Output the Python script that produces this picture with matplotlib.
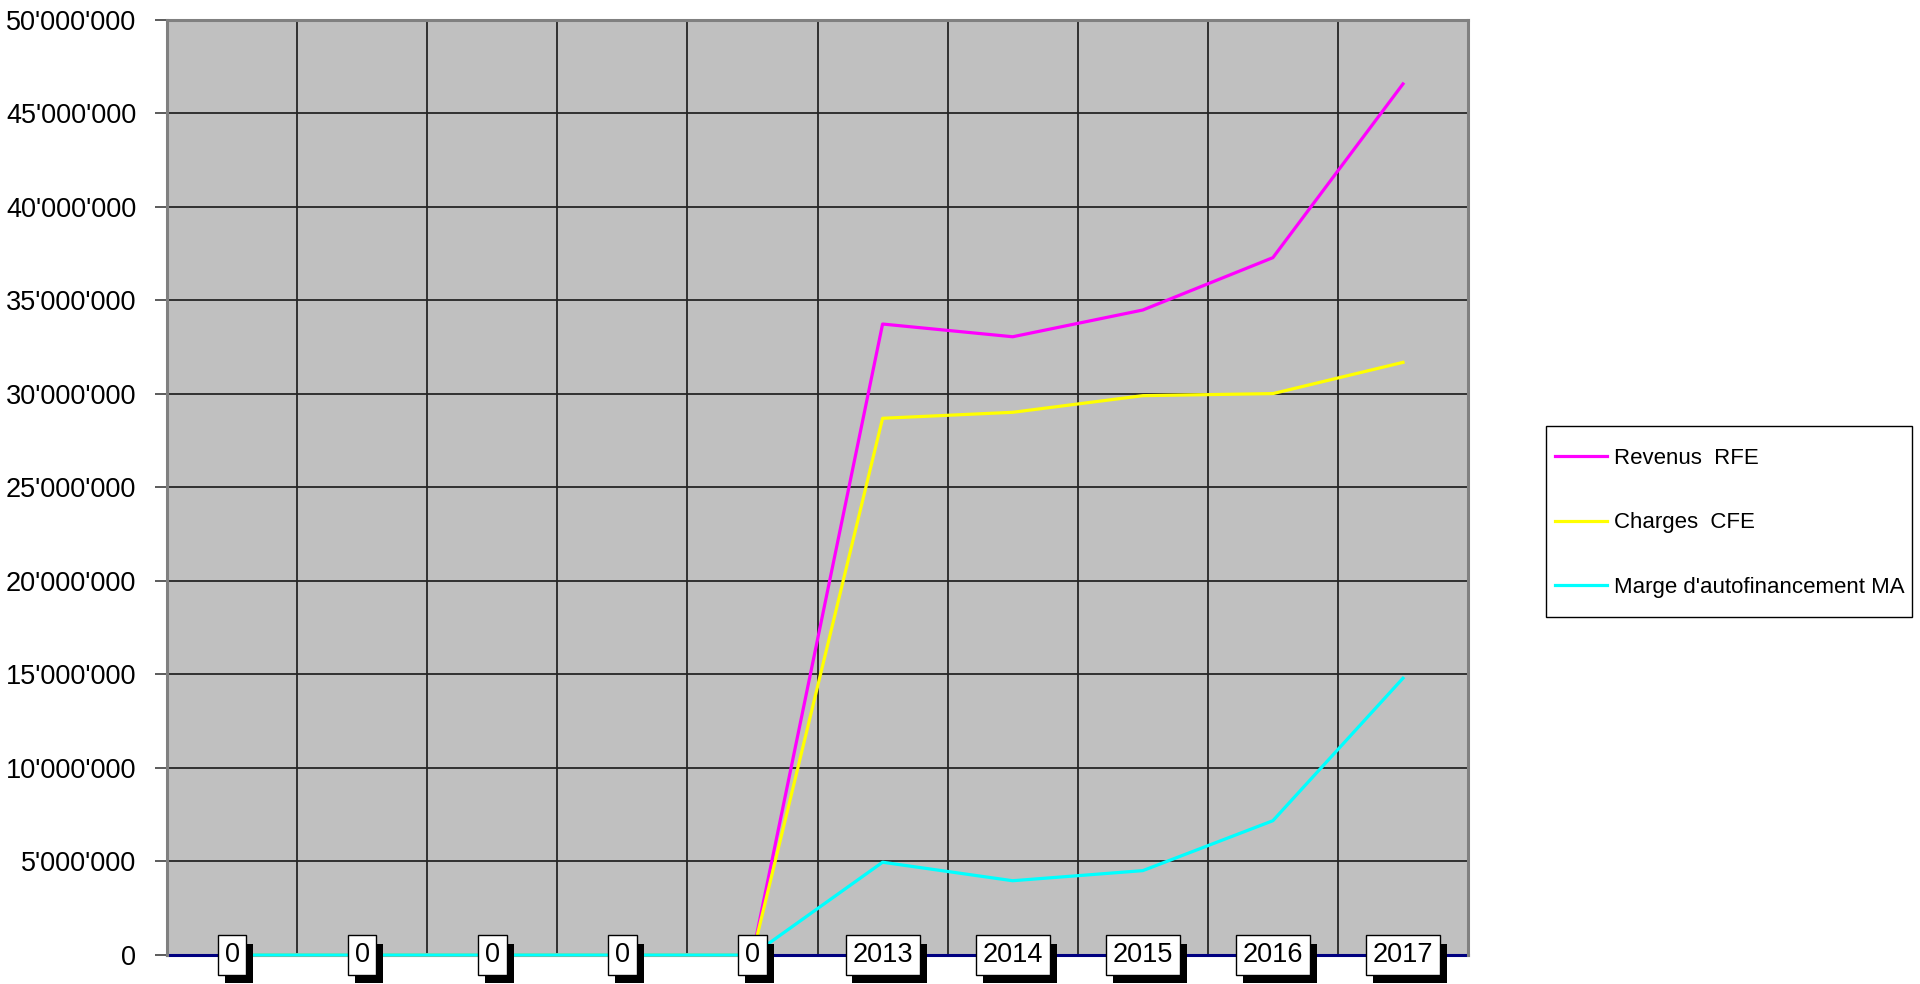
import matplotlib
matplotlib.use("Agg")
import matplotlib.pyplot as plt
import matplotlib.patheffects as pe
from matplotlib.patches import Rectangle
from matplotlib.ticker import FuncFormatter, MultipleLocator

plt.rcParams['font.family'] = ['Liberation Sans', 'DejaVu Sans']

# -- data
labels = ['0', '0', '0', '0', '0', '2013', '2014', '2015', '2016', '2017']
revenus = [0, 0, 0, 0, 0, 33740000, 33060000, 34490000, 37290000, 46580000]
charges = [0, 0, 0, 0, 0, 28700000, 29020000, 29910000, 30020000, 31690000]
marge = [0, 0, 0, 0, 0, 4960000, 3970000, 4510000, 7180000, 14800000]
names = ['Revenus  RFE', 'Charges  CFE', "Marge d'autofinancement MA"]
colors = ['#ff00ff', '#ffff00', '#00ffff']

fig = plt.figure(figsize=(19.2, 9.84), dpi=100)
ax = fig.add_axes([0.087, 0.0295, 0.6776, 0.9502])
ax.set_facecolor('#c0c0c0')

x = list(range(len(labels)))
for vals, nm, c in zip([revenus, charges, marge], names, colors):
    ax.plot(x, vals, color=c, lw=2.3, label=nm, zorder=3, clip_on=False)

ax.set_xlim(-0.5, len(labels) - 0.5)
ax.set_ylim(0, 50000000)
ax.yaxis.set_major_locator(MultipleLocator(5000000))
ax.yaxis.set_major_formatter(FuncFormatter(lambda v, p: f"{v:,.0f}".replace(',', "'")))
ax.tick_params(axis='y', labelsize=19.5, length=9, width=1.2, color='#404040', pad=13)

# category boundaries as vertical grid lines
ax.set_xticks([i + 0.5 for i in x[:-1]])
ax.set_xticklabels([])
ax.tick_params(axis='x', length=0)
ax.grid(True, color='#262626', lw=1.3, zorder=1)
ax.set_axisbelow(True)

for s in ax.spines.values():
    s.set_color('#808080')
    s.set_linewidth(2.2)
ax.spines['bottom'].set_color('#000080')
ax.spines['bottom'].set_zorder(2)

# boxed category labels sitting on the axis line
for i, lab in enumerate(labels):
    t = ax.text(i, 0, lab, ha='center', va='center', fontsize=19.5, zorder=6,
                clip_on=False,
                bbox=dict(boxstyle='square,pad=0.25', fc='white', ec='black', lw=1.0))
    t.get_bbox_patch().set_path_effects([
        pe.SimplePatchShadow(offset=(5, -6), shadow_rgbFace='black', alpha=1.0),
        pe.Normal()])

# legend box drawn separately so the inner margins can differ
fig.patches.append(Rectangle((0.8052, 0.373), 0.1906, 0.1941, transform=fig.transFigure,
                             fc='white', ec='black', lw=1.0, zorder=0))
leg = fig.legend(loc='center left', bbox_to_anchor=(0.8099, 0.4685), fontsize=16,
                 frameon=False, handlelength=2.35, handletextpad=0.3,
                 labelspacing=1.95, borderpad=0, borderaxespad=0)
for ln in leg.get_lines():
    ln.set_linewidth(2.3)

fig.savefig('out.png', dpi=100, facecolor='white')
